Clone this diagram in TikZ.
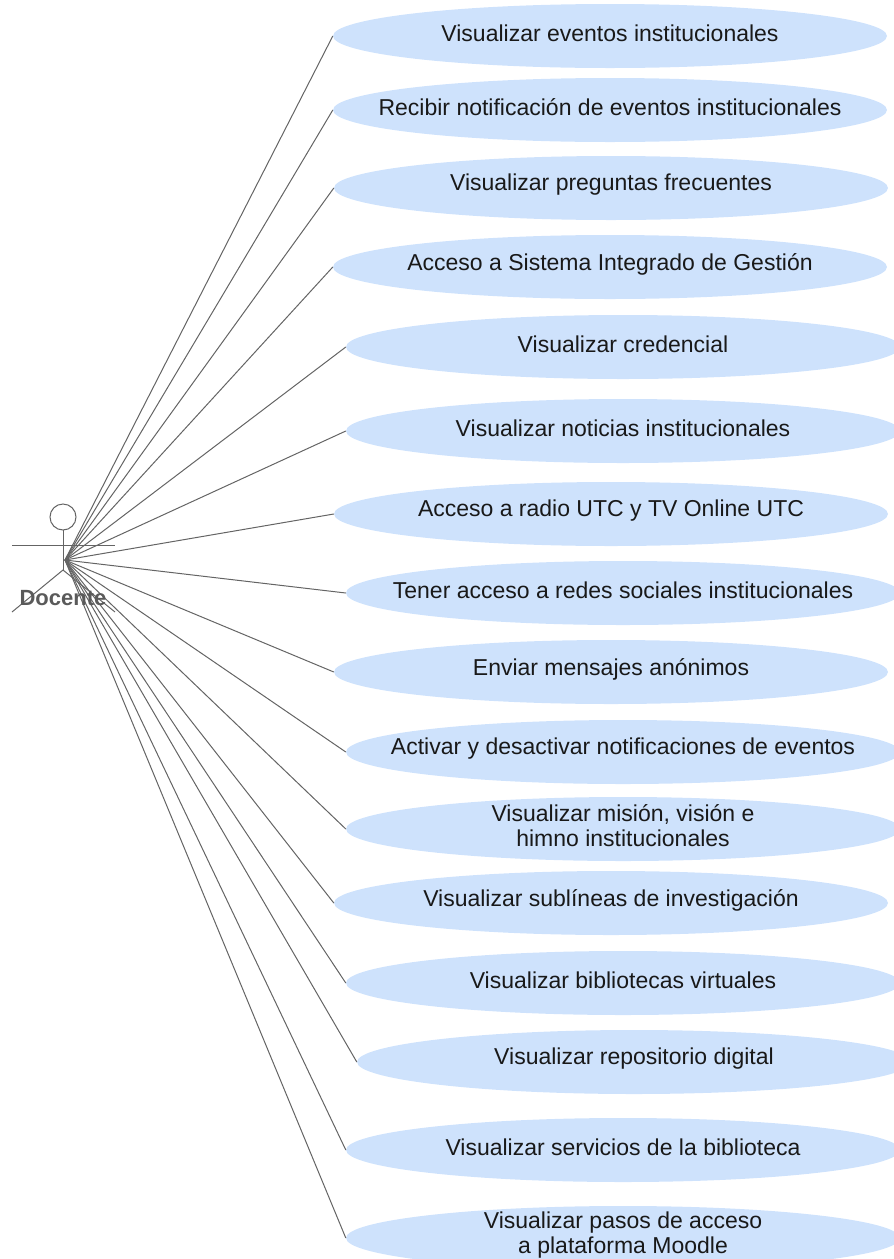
\documentclass[tikz,border=0pt]{standalone}
\usepackage{fontspec}
\setmainfont{Liberation Sans}
\usetikzlibrary{shapes.geometric}
\definecolor{ucfill}{RGB}{206,226,252}
\definecolor{linkgray}{RGB}{100,100,100}
\definecolor{txtdark}{RGB}{25,25,25}
\definecolor{actorlabel}{RGB}{90,90,90}
\tikzset{
  usecase/.style={ellipse, fill=ucfill, draw=none, minimum width=554pt, minimum height=64pt, inner sep=0pt},
  uctext/.style={text=txtdark, align=center, inner sep=0pt, yshift=3pt, font=\fontsize{23}{25}\selectfont},
  assoc/.style={draw=linkgray, line width=1pt},
  stick/.style={draw=linkgray, line width=1pt},
}
\begin{document}
\begin{tikzpicture}[x=1pt, y=-1pt]
  \useasboundingbox (0,0) rectangle (894,1259);
  \clip (0,0) rectangle (894,1259);

  % use cases
  \node[usecase] (u1)  at (610,36)   {};
  \node[usecase] (u2)  at (610,110)  {};
  \node[usecase] (u3)  at (611,188)  {};
  \node[usecase] (u4)  at (610,267)  {};
  \node[usecase] (u5)  at (623,347)  {};
  \node[usecase] (u6)  at (623,431)  {};
  \node[usecase] (u7)  at (611,514)  {};
  \node[usecase] (u8)  at (623,593)  {};
  \node[usecase] (u9)  at (611,672)  {};
  \node[usecase] (u10) at (623,752)  {};
  \node[usecase] (u11) at (623,829)  {};
  \node[usecase] (u12) at (611,903)  {};
  \node[usecase] (u13) at (623,983)  {};
  \node[usecase] (u14) at (634,1062) {};
  \node[usecase] (u15) at (623,1150) {};
  \node[usecase] (u16) at (623,1238) {};

  \node[uctext] (t1)  at (u1)  {Visualizar eventos institucionales};
  \node[uctext] (t2)  at (u2)  {Recibir notificación de eventos institucionales};
  \node[uctext] (t3)  at (u3)  {Visualizar preguntas frecuentes};
  \node[uctext] (t4)  at (u4)  {Acceso a Sistema Integrado de Gestión};
  \node[uctext] (t5)  at (u5)  {Visualizar credencial};
  \node[uctext] (t6)  at (u6)  {Visualizar noticias institucionales};
  \node[uctext] (t7)  at (u7)  {Acceso a radio UTC y TV Online UTC};
  \node[uctext] (t8)  at (u8)  {Tener acceso a redes sociales institucionales};
  \node[uctext] (t9)  at (u9)  {Enviar mensajes anónimos};
  \node[uctext] (t10) at (u10) {Activar y desactivar notificaciones de eventos};
  \node[uctext] (t11) at (u11) {Visualizar misión, visión e\\himno institucionales};
  \node[uctext] (t12) at (u12) {Visualizar sublíneas de investigación};
  \node[uctext] (t13) at (u13) {Visualizar bibliotecas virtuales};
  \node[uctext] (t14) at (u14) {Visualizar repositorio digital};
  \node[uctext] (t15) at (u15) {Visualizar servicios de la biblioteca};
  \node[uctext] (t16) at (u16) {Visualizar pasos de acceso\\a plataforma Moodle};

  % actor: stick figure
  \coordinate (actor) at (65,560);
  \node[circle, stick, minimum size=26pt, inner sep=0pt] (head) at (63,517) {};
  \coordinate (neck) at (63,530);
  \coordinate (hip) at (63,570);
  \coordinate (handL) at (12,545);
  \coordinate (handR) at (115,545);
  \coordinate (footL) at (12,612);
  \coordinate (footR) at (115,612);
  \draw[stick] (neck) -- (hip);
  \draw[stick] (handL) -- (handR);
  \draw[stick] (footL) -- (hip) -- (footR);

  % associations
  \foreach \i in {1,...,16} {
    \draw[assoc] (actor) -- (u\i.west);
  }

  \node[text=actorlabel, inner sep=0pt, font=\fontsize{22}{24}\selectfont\bfseries] (lbl) at (63,598) {Docente};
\end{tikzpicture}
\end{document}
